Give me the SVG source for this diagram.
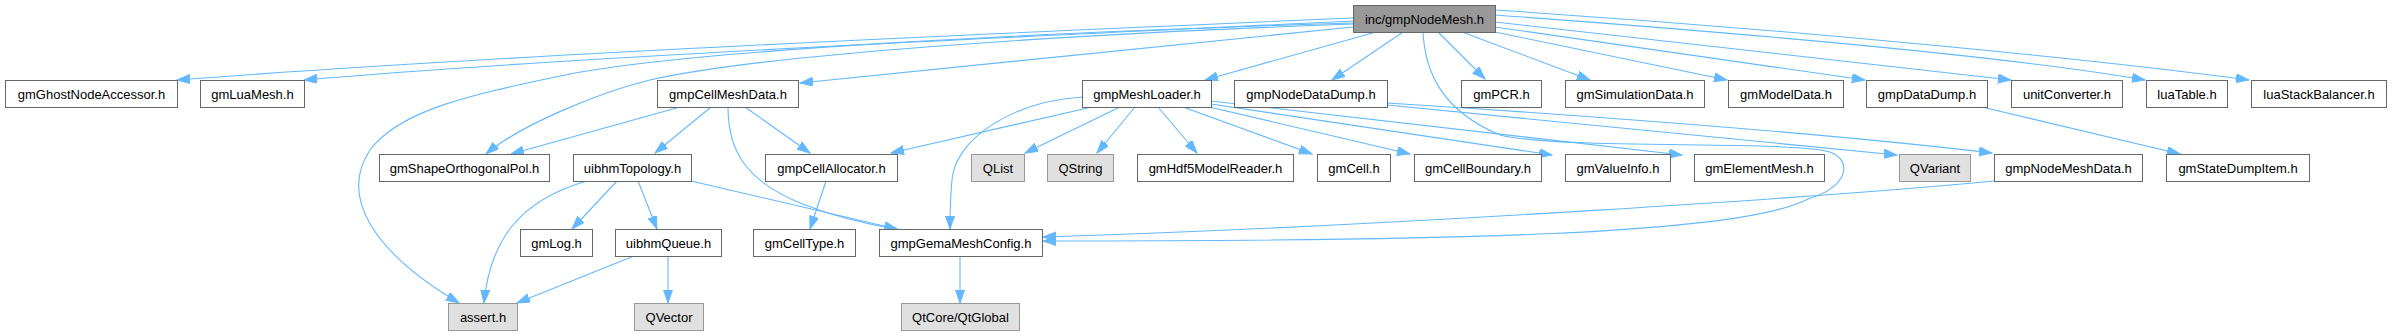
<svg xmlns="http://www.w3.org/2000/svg" width="2392" height="336" viewBox="0 0 2392 336">
<style>
.n rect{fill:#ffffff;stroke:#666666;stroke-width:1}
.g rect{fill:#e0e0e0;stroke:#999999;stroke-width:1}
.r rect{fill:#999999;stroke:#666666;stroke-width:1}
text{font-family:"Liberation Sans",Arial,sans-serif;font-size:13px;fill:#000000;text-anchor:middle}
#edges path{fill:none;stroke:#63b8ff;stroke-width:1.1;marker-end:url(#a)}
</style>
<defs>
<marker id="a" markerWidth="14" markerHeight="10" refX="13" refY="4.5" orient="auto" markerUnits="userSpaceOnUse">
<path d="M0,0 L13,4.5 L0,9 z" fill="#63b8ff" stroke="#63b8ff" stroke-width="1"/>
</marker>
</defs>
<rect width="2392" height="336" fill="#ffffff"/>
<g id="edges">
<path d="M1353,18 C1000,33 500,55 177,80"/>
<path d="M1353,21 C1000,38 600,55 304,80"/>
<path d="M1353,27 L800,83"/>
<path d="M1353,24 C1050,35 760,55 650,80 C600,92 520,125 486,154"/>
<path d="M1353,23 C1050,32 680,50 560,76 C470,95 400,110 370,150 C340,195 370,250 459,303"/>
<path d="M1376,32 L1205,80"/>
<path d="M1403,32 L1332,80"/>
<path d="M1438,32 L1485,79"/>
<path d="M1462,32 L1590,80"/>
<path d="M1490,31 L1727,80"/>
<path d="M1495,27 L1865,80"/>
<path d="M1495,22 L2011,80"/>
<path d="M1495,15 C1700,30 2000,55 2145,80"/>
<path d="M1495,10 C1800,30 2100,60 2249,80"/>
<path d="M1423,32 C1425,70 1440,110 1500,135 C1560,150 1790,140 1830,152 C1852,160 1850,186 1808,199 C1740,235 1450,241 1043,241"/>
<path d="M1994,181 C1850,195 1400,226 1043,237"/>
<path d="M1387,105 L1897,155"/>
<path d="M1387,103 C1500,110 1800,130 1992,153"/>
<path d="M1092,107 L891,153"/>
<path d="M1082,97 C1010,102 955,140 952,180 C950,200 950,215 950,229"/>
<path d="M1120,107 L1025,153"/>
<path d="M1135,107 L1097,153"/>
<path d="M1158,107 L1197,153"/>
<path d="M1183,107 L1312,154"/>
<path d="M1205,106 L1410,154"/>
<path d="M1211,104 L1552,155"/>
<path d="M1211,101 L1682,155"/>
<path d="M680,107 L511,154"/>
<path d="M711,107 L655,153"/>
<path d="M745,107 L810,153"/>
<path d="M728,107 C728,150 745,180 800,203 C835,217 865,224 897,229"/>
<path d="M587,181 C520,200 490,240 484,303"/>
<path d="M617,181 L572,229"/>
<path d="M638,181 L657,229"/>
<path d="M691,181 L897,229"/>
<path d="M634,256 L517,303"/>
<path d="M668,256 L668,303"/>
<path d="M826,181 L810,229"/>
<path d="M960,256 L960,303"/>
<path d="M1982,107 L2180,154"/>
</g>
<g id="root" class="r"><rect x="1353.5" y="5.5" width="142" height="27"/><text x="1424.5" y="24">inc/gmpNodeMesh.h</text></g>
<g id="gmGhostNodeAccessor" class="n"><rect x="5.5" y="80.5" width="172" height="27"/><text x="91.5" y="99">gmGhostNodeAccessor.h</text></g>
<g id="gmLuaMesh" class="n"><rect x="200.5" y="80.5" width="104" height="27"/><text x="252.5" y="99">gmLuaMesh.h</text></g>
<g id="gmpCellMeshData" class="n"><rect x="657.5" y="80.5" width="141" height="27"/><text x="728" y="99">gmpCellMeshData.h</text></g>
<g id="gmpMeshLoader" class="n"><rect x="1082.5" y="80.5" width="129" height="27"/><text x="1147" y="99">gmpMeshLoader.h</text></g>
<g id="gmpNodeDataDump" class="n"><rect x="1234.5" y="80.5" width="153" height="27"/><text x="1311" y="99">gmpNodeDataDump.h</text></g>
<g id="gmPCR" class="n"><rect x="1461.5" y="80.5" width="80" height="27"/><text x="1501.5" y="99">gmPCR.h</text></g>
<g id="gmSimulationData" class="n"><rect x="1565.5" y="80.5" width="139" height="27"/><text x="1635" y="99">gmSimulationData.h</text></g>
<g id="gmModelData" class="n"><rect x="1728.5" y="80.5" width="115" height="27"/><text x="1786" y="99">gmModelData.h</text></g>
<g id="gmpDataDump" class="n"><rect x="1866.5" y="80.5" width="121" height="27"/><text x="1927" y="99">gmpDataDump.h</text></g>
<g id="unitConverter" class="n"><rect x="2011.5" y="80.5" width="111" height="27"/><text x="2067" y="99">unitConverter.h</text></g>
<g id="luaTable" class="n"><rect x="2146.5" y="80.5" width="81" height="27"/><text x="2187" y="99">luaTable.h</text></g>
<g id="luaStackBalancer" class="n"><rect x="2251.5" y="80.5" width="135" height="27"/><text x="2319" y="99">luaStackBalancer.h</text></g>
<g id="gmShapeOrthogonalPol" class="n"><rect x="379.5" y="154.5" width="170" height="27"/><text x="464.5" y="173">gmShapeOrthogonalPol.h</text></g>
<g id="uibhmTopology" class="n"><rect x="573.5" y="154.5" width="118" height="27"/><text x="632.5" y="173">uibhmTopology.h</text></g>
<g id="gmpCellAllocator" class="n"><rect x="765.5" y="154.5" width="132" height="27"/><text x="831.5" y="173">gmpCellAllocator.h</text></g>
<g id="QList" class="g"><rect x="971.5" y="154.5" width="53" height="27"/><text x="998" y="173">QList</text></g>
<g id="QString" class="g"><rect x="1047.5" y="154.5" width="66" height="27"/><text x="1080.5" y="173">QString</text></g>
<g id="gmHdf5ModelReader" class="n"><rect x="1137.5" y="154.5" width="156" height="27"/><text x="1215.5" y="173">gmHdf5ModelReader.h</text></g>
<g id="gmCell" class="n"><rect x="1317.5" y="154.5" width="73" height="27"/><text x="1354" y="173">gmCell.h</text></g>
<g id="gmCellBoundary" class="n"><rect x="1414.5" y="154.5" width="127" height="27"/><text x="1478" y="173">gmCellBoundary.h</text></g>
<g id="gmValueInfo" class="n"><rect x="1565.5" y="154.5" width="105" height="27"/><text x="1618" y="173">gmValueInfo.h</text></g>
<g id="gmElementMesh" class="n"><rect x="1694.5" y="154.5" width="130" height="27"/><text x="1759.5" y="173">gmElementMesh.h</text></g>
<g id="QVariant" class="g"><rect x="1899.5" y="154.5" width="71" height="27"/><text x="1935" y="173">QVariant</text></g>
<g id="gmpNodeMeshData" class="n"><rect x="1994.5" y="154.5" width="148" height="27"/><text x="2068.5" y="173">gmpNodeMeshData.h</text></g>
<g id="gmStateDumpItem" class="n"><rect x="2166.5" y="154.5" width="143" height="27"/><text x="2238" y="173">gmStateDumpItem.h</text></g>
<g id="gmLog" class="n"><rect x="520.5" y="229.5" width="72" height="27"/><text x="556.5" y="248">gmLog.h</text></g>
<g id="uibhmQueue" class="n"><rect x="615.5" y="229.5" width="106" height="27"/><text x="668.5" y="248">uibhmQueue.h</text></g>
<g id="gmCellType" class="n"><rect x="753.5" y="229.5" width="102" height="27"/><text x="804.5" y="248">gmCellType.h</text></g>
<g id="gmpGemaMeshConfig" class="n"><rect x="879.5" y="229.5" width="163" height="27"/><text x="961" y="248">gmpGemaMeshConfig.h</text></g>
<g id="assert" class="g"><rect x="448.5" y="303.5" width="69" height="27"/><text x="483" y="322">assert.h</text></g>
<g id="QVector" class="g"><rect x="634.5" y="303.5" width="69" height="27"/><text x="669" y="322">QVector</text></g>
<g id="QtGlobal" class="g"><rect x="901.5" y="303.5" width="118" height="27"/><text x="960.5" y="322">QtCore/QtGlobal</text></g>
</svg>
